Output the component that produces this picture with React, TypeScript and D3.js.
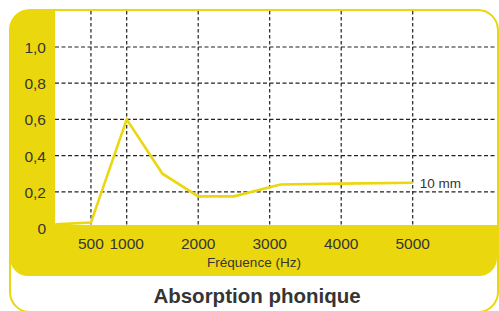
import { line, scaleLinear } from "d3";

const freqs = [0, 500, 1000, 1500, 2000, 2500, 3150, 4000, 5000];
const absorption = [0.02, 0.03, 0.6, 0.3, 0.175, 0.175, 0.24, 0.245, 0.25];
const xTicks = [500, 1000, 2000, 3000, 4000, 5000];
const yTicks = [0, 0.2, 0.4, 0.6, 0.8, 1.0];
const seriesLabel = "10 mm";

const yellow = "#ebd70d";
const ink = "#353535";

export default function App() {
  const width = 499;
  const height = 311;
  const plotLeft = 55;
  const plotTop = 11;
  const plotRight = 497;
  const plotBottom = 225;
  const r = 18;

  const x = scaleLinear().domain([0, 5000]).range([55.2, 412.7]);
  const y = scaleLinear().domain([0, 1]).range([228, 47]);

  const points = freqs.map((f, i) => [f, absorption[i]] as [number, number]);
  const path = line<[number, number]>()
    .x((d) => x(d[0]))
    .y((d) => y(d[1]))(points);

  const plotPath = `M${plotLeft},${plotTop} H${plotRight - r} A${r},${r} 0 0 1 ${plotRight},${plotTop + r} V${plotBottom} H${plotLeft} Z`;
  const last = points[points.length - 1];

  return (
    <svg
      width={width}
      height={height}
      style={{ position: "absolute", left: 0, top: 0 }}
      fontFamily="'Liberation Sans', Arial, sans-serif"
    >
      <rect x={10} y={10} width={488} height={302} rx={20} fill="#fff" />
      <rect x={10} y={10} width={487} height={266} rx={r} fill={yellow} />
      <path d={plotPath} fill="#fff" />

      {yTicks.slice(1).map((t) => (
        <line
          key={t}
          x1={plotLeft}
          x2={plotRight}
          y1={y(t)}
          y2={y(t)}
          stroke="#222"
          strokeWidth={1.2}
          strokeDasharray="4 2.5"
        />
      ))}
      {xTicks.map((t) => (
        <line
          key={t}
          x1={x(t)}
          x2={x(t)}
          y1={plotTop}
          y2={plotBottom}
          stroke="#222"
          strokeWidth={1.2}
          strokeDasharray="3.5 2.5"
        />
      ))}

      {path ? <path d={path} fill="none" stroke={yellow} strokeWidth={2.6} /> : null}
      <text x={x(last[0]) + 7} y={y(last[1]) + 5} fontSize={13.5} fill={ink}>
        {seriesLabel}
      </text>

      {yTicks.map((t) => (
        <text key={t} x={46} y={y(t) + 6} textAnchor="end" fontSize={15.5} fill={ink}>
          {t === 0 ? "0" : t.toFixed(1).replace(".", ",")}
        </text>
      ))}
      {xTicks.map((t) => (
        <text key={t} x={x(t)} y={249} textAnchor="middle" fontSize={15.5} fill={ink}>
          {t}
        </text>
      ))}
      <text x={254} y={267} textAnchor="middle" fontSize={13.5} fill={ink}>
        Fréquence (Hz)
      </text>
      <text x={257} y={302.5} textAnchor="middle" fontSize={20.5} fontWeight="bold" fill={ink}>
        Absorption phonique
      </text>

      <rect x={10} y={10} width={488} height={302} rx={20} fill="none" stroke={yellow} strokeWidth={2} />
    </svg>
  );
}
